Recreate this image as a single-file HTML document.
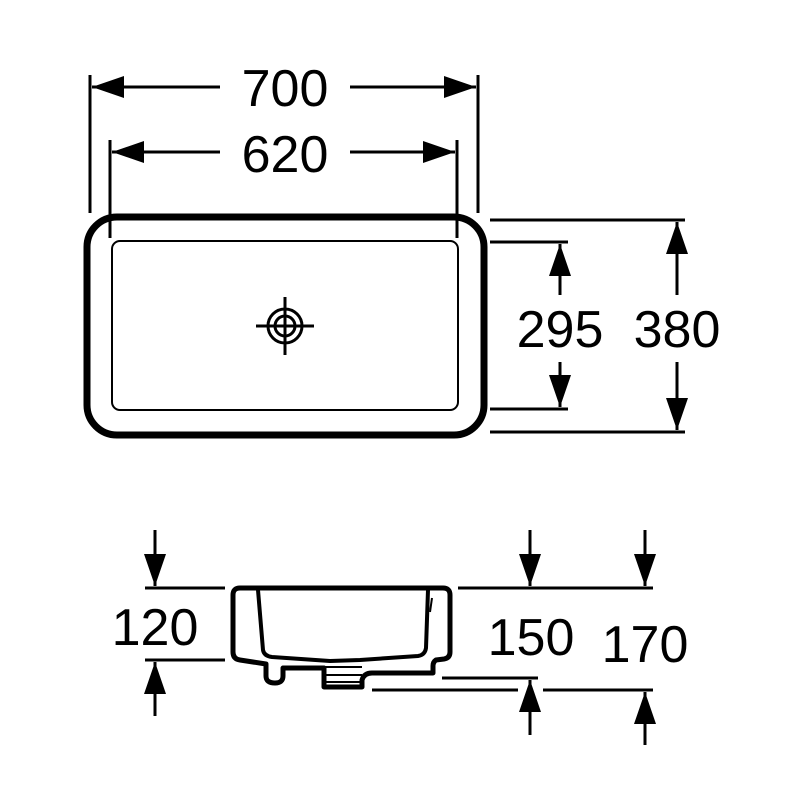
<!DOCTYPE html>
<html><head><style>html,body{margin:0;padding:0;background:#fff}svg{display:block}</style></head>
<body>
<svg width="800" height="800" viewBox="0 0 800 800" xmlns="http://www.w3.org/2000/svg" font-family="Liberation Sans, sans-serif">
<defs>
<marker id="a" markerWidth="12" markerHeight="10" refX="12" refY="5" orient="auto" markerUnits="userSpaceOnUse">
<path d="M0,0 L12,5 L0,10 Z" fill="#000"/></marker>
</defs>
<g stroke="#000" stroke-width="3" fill="none">
<!-- top dims -->
<line x1="90" y1="75" x2="90" y2="213"/><line x1="478" y1="75" x2="478" y2="213"/>
<line x1="110" y1="140" x2="110" y2="238"/><line x1="457" y1="140" x2="457" y2="238"/>
</g>
<g stroke="#000" stroke-width="3">
<line x1="220" y1="87" x2="92" y2="87"/><path d="M92,87 l32,-11 v22z" fill="#000" stroke="none"/>
<line x1="350" y1="87" x2="476" y2="87"/><path d="M476,87 l-32,-11 v22z" fill="#000" stroke="none"/>
<line x1="220" y1="152" x2="112" y2="152"/><path d="M112,152 l32,-11 v22z" fill="#000" stroke="none"/>
<line x1="350" y1="152" x2="455" y2="152"/><path d="M455,152 l-32,-11 v22z" fill="#000" stroke="none"/>
<!-- right dims -->
<line x1="490" y1="220" x2="685" y2="220"/><line x1="490" y1="432" x2="685" y2="432"/>
<line x1="490" y1="242" x2="568" y2="242"/><line x1="490" y1="409" x2="568" y2="409"/>
<line x1="677" y1="222" x2="677" y2="295"/><path d="M677,222 l-11,32 h22z" fill="#000" stroke="none"/>
<line x1="677" y1="362" x2="677" y2="430"/><path d="M677,430 l-11,-32 h22z" fill="#000" stroke="none"/>
<line x1="560" y1="244" x2="560" y2="295"/><path d="M560,244 l-11,32 h22z" fill="#000" stroke="none"/>
<line x1="560" y1="362" x2="560" y2="407"/><path d="M560,407 l-11,-32 h22z" fill="#000" stroke="none"/>
<!-- side dims -->
<line x1="145" y1="588" x2="225" y2="588"/><line x1="145" y1="660" x2="225" y2="660"/>
<line x1="155" y1="530" x2="155" y2="586"/><path d="M155,586 l-11,-32 h22z" fill="#000" stroke="none"/>
<line x1="155" y1="662" x2="155" y2="716"/><path d="M155,662 l-11,32 h22z" fill="#000" stroke="none"/>
<line x1="458" y1="588" x2="653" y2="588"/>
<line x1="530" y1="530" x2="530" y2="586"/><path d="M530,586 l-11,-32 h22z" fill="#000" stroke="none"/>
<line x1="645" y1="530" x2="645" y2="586"/><path d="M645,586 l-11,-32 h22z" fill="#000" stroke="none"/>
<line x1="442" y1="678" x2="538" y2="678"/>
<line x1="372" y1="690" x2="518" y2="690"/><line x1="543" y1="690" x2="653" y2="690"/>
<line x1="530" y1="680" x2="530" y2="735"/><path d="M530,680 l-11,32 h22z" fill="#000" stroke="none"/>
<line x1="645" y1="692" x2="645" y2="745"/><path d="M645,692 l-11,32 h22z" fill="#000" stroke="none"/>
</g>
<!-- top view basin -->
<rect x="87" y="217" width="397" height="218" rx="30" fill="none" stroke="#000" stroke-width="7"/>
<rect x="112" y="241" width="346" height="169" rx="8" fill="none" stroke="#000" stroke-width="2"/>
<g stroke="#000" fill="none">
<circle cx="285" cy="326" r="17" stroke-width="3"/>
<circle cx="285" cy="326" r="10" stroke-width="3"/>
<line x1="256" y1="326" x2="314" y2="326" stroke-width="3"/>
<line x1="285" y1="297" x2="285" y2="355" stroke-width="3"/>
</g>
<!-- side view -->
<g stroke="#000" stroke-width="5" fill="none" stroke-linejoin="round">
<path d="M240,588 H443 Q450,588 450,595 V652 Q450,658 444,659 L436,660 Q433,662 433,666 V673 H372 Q364,673 362,680 V687 H324 V668 H283 V676 Q283,683 275,683 Q266,683 266,676 V664 L240,660 Q233,659 233,652 V595 Q233,588 240,588 Z"/>
<path d="M258,590 L263,650 Q264,656 272,657 L330,661 L360,660 L418,656 Q425,655 426,648 L428,590" stroke-width="4"/>
<line x1="324" y1="667" x2="362" y2="667" stroke-width="2"/>
<line x1="324" y1="675" x2="362" y2="675" stroke-width="2"/>
<line x1="324" y1="682" x2="362" y2="682" stroke-width="2"/>
<line x1="432" y1="598" x2="430" y2="612" stroke-width="2"/>
</g>
<g font-size="52" fill="#000">
<text x="285" y="106" text-anchor="middle">700</text>
<text x="285" y="172" text-anchor="middle">620</text>
<text x="560" y="347" text-anchor="middle">295</text>
<text x="677" y="347" text-anchor="middle">380</text>
<text x="155" y="645" text-anchor="middle">120</text>
<text x="531" y="655" text-anchor="middle">150</text>
<text x="645" y="662" text-anchor="middle">170</text>
</g>
</svg>
</body></html>
